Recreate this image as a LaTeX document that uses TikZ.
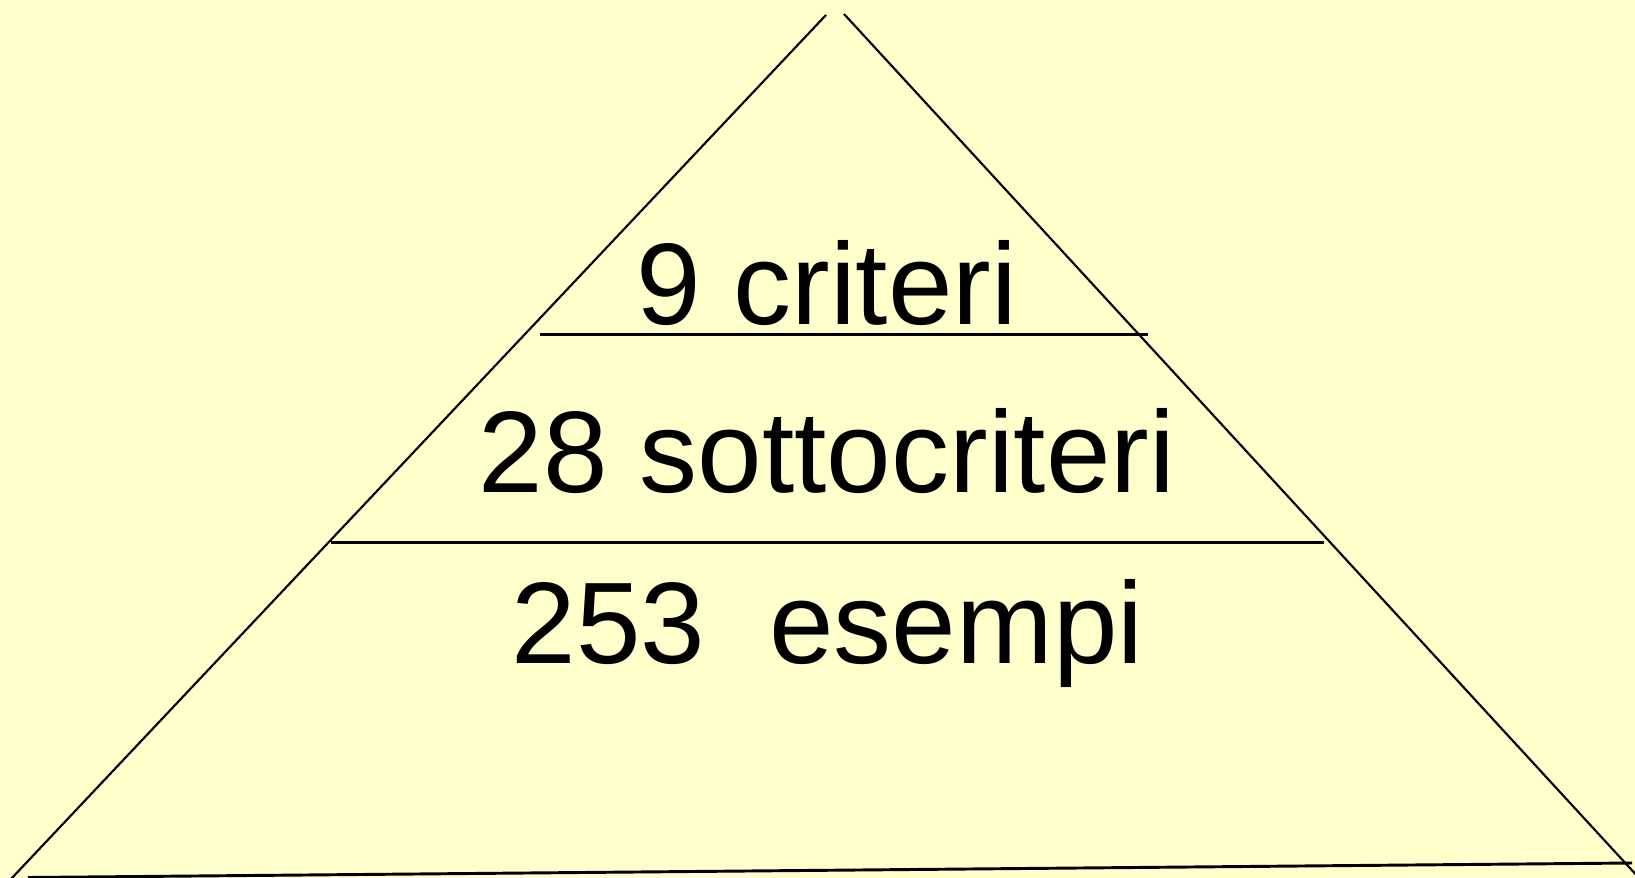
\documentclass[tikz,border=0pt]{standalone}
\usepackage{fontspec}
\setmainfont{Liberation Sans}
\definecolor{bg}{HTML}{FFFFCC}
\begin{document}
\begin{tikzpicture}[x=0.75pt,y=-0.75pt,
  side/.style={line width=1.6pt,black},
  level/.style={line width=2.2pt,black},
  lbl/.style={anchor=base,inner sep=0pt,font=\fontsize{87}{100}\selectfont}]
\fill[bg] (0,0) rectangle (1635,878);
\useasboundingbox (0,0) rectangle (1635,878);
\clip (0,0) rectangle (1635,878);
\coordinate (apexL) at (826,15);
\coordinate (apexR) at (844,14);
\coordinate (baseL) at (11,879);
\coordinate (baseR) at (1640,879);
\draw[side] (apexL) -- (baseL);
\draw[side] (apexR) -- (baseR);
\draw[level] (28,877.5) -- (1632,863);
\draw[level] (540,334.5) -- (1148,334.5);
\draw[level] (331,542.5) -- (1324,542.5);
\node[lbl] (t1) at (827,324) {9 criteri};
\node[lbl] (t2) at (827,492) {28 sottocriteri};
\node[lbl] (t3) at (827.5,663) {253\ \ esempi};
\end{tikzpicture}
\end{document}
